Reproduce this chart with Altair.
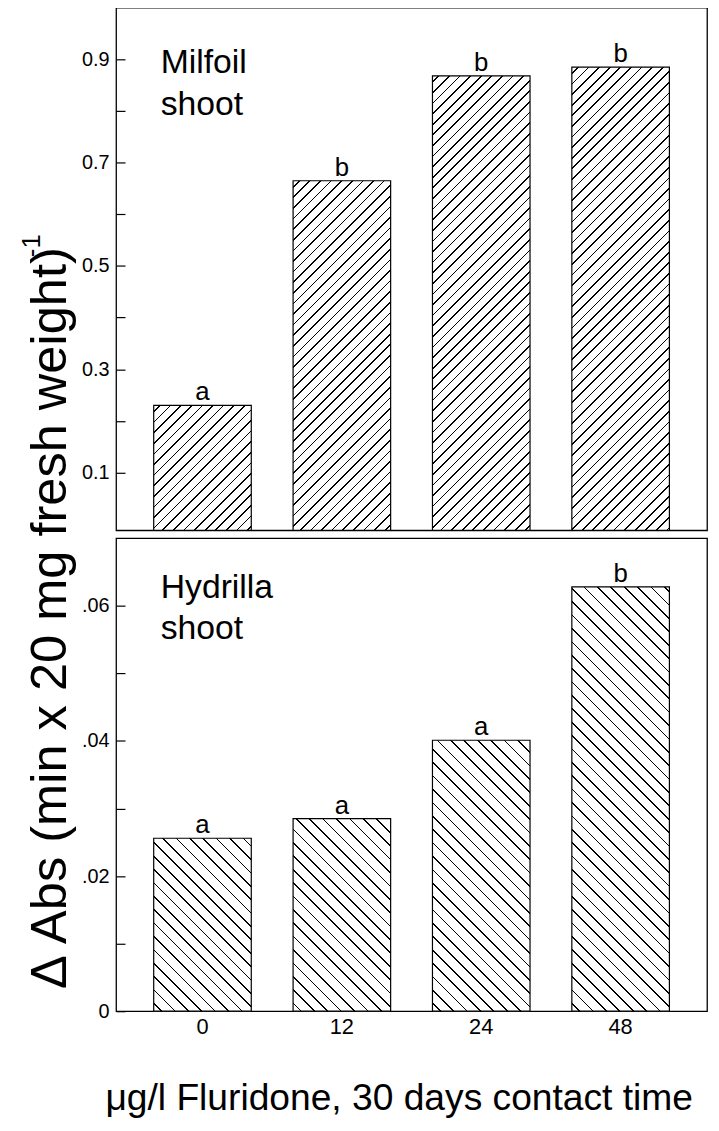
import math
import altair as alt
import pandas as pd

# ---------------- data ----------------
doses = ["0", "12", "24", "48"]
milfoil_values = [0.23, 0.665, 0.868, 0.885]
milfoil_letters = ["a", "b", "b", "b"]
hydrilla_values = [0.0256, 0.0285, 0.0401, 0.0628]
hydrilla_letters = ["a", "a", "a", "b"]
milfoil_ticks = [0.1, 0.2, 0.3, 0.4, 0.5, 0.6, 0.7, 0.8, 0.9]
hydrilla_ticks = [0.0, 0.01, 0.02, 0.03, 0.04, 0.05, 0.06]
panel_labels = ["Milfoil\nshoot", "Hydrilla\nshoot"]
y_title = "\u0394 Abs (min x 20 mg fresh weight)"
y_title_exp = "-1"
x_title = "\u03bcg/l Fluridone, 30 days contact time"

# ---------------- layout / style ----------------
FONT = "Liberation Sans"
PW = 596
TOP_H = 527
BOT_H = 477
TOP_DOMAIN = [-0.012, 1.0]
BOT_DOMAIN = [0, 0.07]
PAD_IN = 0.3
PAD_OUT = 0.27
STEP = PW / (len(doses) - PAD_IN + 2 * PAD_OUT)
BAR_W = STEP * (1 - PAD_IN)


def hatch(h, spacing, lw, direction):
    """Linear gradient emulating 45-degree hatching for a bar of size BAR_W x h."""
    w = BAR_W
    L = w + h
    period = spacing / L
    half = lw * math.sqrt(2) / L / 2
    stops = [{"offset": 0, "color": "white"}]
    c = period * 0.6
    while c - half < 1:
        a = max(0.0, c - half)
        b = min(1.0, c + half)
        stops += [
            {"offset": round(a, 6), "color": "white"},
            {"offset": round(a, 6), "color": "black"},
            {"offset": round(b, 6), "color": "black"},
            {"offset": round(b, 6), "color": "white"},
        ]
        c += period
    stops.append({"offset": 1, "color": "white"})
    k = L / (w * w + h * h)
    if direction == "/":
        return {"gradient": "linear", "x1": 0, "y1": 0, "x2": k * w, "y2": k * h, "stops": stops}
    return {"gradient": "linear", "x1": 0, "y1": 1, "x2": k * w, "y2": 1 - k * h, "stops": stops}


def panel(values, letters, domain, height, ticks, label_expr, direction, spacing,
          label, label_y, show_x, y_axis_title):
    df = pd.DataFrame({"dose": doses, "value": values, "sig": letters})
    base = alt.Chart(df)
    if show_x:
        x_axis = alt.Axis(title=x_title, labelAngle=0, ticks=False, domain=False,
                          labelFontSize=22, labelPadding=5, labelColor="black",
                          titleFontSize=37.5, titleFontWeight="normal", titlePadding=43,
                          titleX=285, titleColor="black")
    else:
        x_axis = None
    X = alt.X("dose:N", scale=alt.Scale(domain=doses, paddingInner=PAD_IN, paddingOuter=PAD_OUT),
              axis=x_axis)
    axis_kw = dict(values=ticks, labelExpr=label_expr, ticks=False, domain=False,
                   grid=True, gridDash=[9, 3000], gridColor="black", gridWidth=1.2,
                   gridOpacity=1, labelPadding=7, labelFontSize=20, labelColor="black")
    if y_axis_title:
        axis_kw.update(title=y_axis_title, titleFontSize=51, titleFontWeight="normal",
                       titleAngle=270, titleAlign="center", titleBaseline="alphabetic",
                       titleX=-51, titleY=615, titleColor="black")
    else:
        axis_kw.update(title=None)
    Y = alt.Y("value:Q", scale=alt.Scale(domain=domain, nice=False, zero=False),
              axis=alt.Axis(**axis_kw))

    layers = []
    for d, v in zip(doses, values):
        h = (v - domain[0]) / (domain[1] - domain[0]) * height
        layers.append(
            base.transform_filter(alt.datum.dose == d)
            .mark_bar(fill=hatch(h, spacing, 1.2, direction), stroke="black", strokeWidth=1.2)
            .encode(x=X, y=Y, y2=alt.datum(domain[0]))
        )
    layers.append(
        base.mark_text(fontSize=26, baseline="alphabetic", dy=-5, color="black")
        .encode(x=X, y=Y, text="sig:N")
    )
    layers.append(
        alt.Chart(pd.DataFrame({"t": [label]}))
        .mark_text(fontSize=34, align="left", baseline="alphabetic", lineBreak="\n",
                   lineHeight=42, color="black")
        .encode(x=alt.value(45), y=alt.value(label_y), text="t:N")
    )
    return alt.layer(*layers).properties(width=PW, height=height)


top = panel(milfoil_values, milfoil_letters, TOP_DOMAIN, TOP_H, milfoil_ticks,
            "round(datum.value*10) % 2 == 1 ? format(datum.value, '.1f') : ''",
            "/", 10.7, panel_labels[0], 66, False, y_title)
top = alt.layer(
    top,
    alt.Chart(pd.DataFrame({"t": [y_title_exp]}))
    .mark_text(fontSize=26, angle=270, align="center", baseline="middle", color="black")
    .encode(x=alt.value(-85), y=alt.value(240), text="t:N"),
).properties(width=PW, height=TOP_H)

bottom = panel(hydrilla_values, hydrilla_letters, BOT_DOMAIN, BOT_H, hydrilla_ticks,
               "round(datum.value*100) % 2 == 1 ? '' : (datum.value == 0 ? '0' : "
               "replace(format(datum.value, '.2f'), '0.', '.'))",
               "\\", 13.5, panel_labels[1], 60, True, None)

chart = (
    alt.vconcat(top, bottom, spacing=8, bounds="flush")
    .properties(padding={"left": 10, "top": -6, "right": 3, "bottom": 0})
    .configure(font=FONT)
    .configure_view(stroke="black", strokeWidth=1.3)
)

chart.save("out.html", embed_options={"renderer": "svg", "actions": False})
